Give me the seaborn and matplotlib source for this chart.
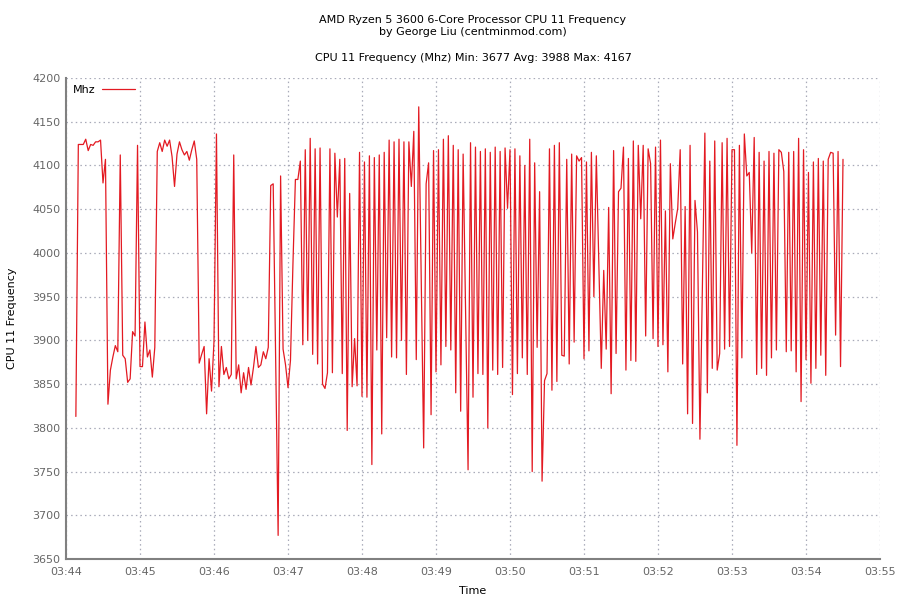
import matplotlib
matplotlib.use("Agg")
import matplotlib.pyplot as plt
import matplotlib.dates as mdates
import seaborn as sns
import numpy as np
import pandas as pd

# cpu 11 frequency samples (Mhz), one every ~2 s from 03:44:08 to 03:54:30
mhz_a = [3813, 4124, 4124, 4124, 4130, 4117, 4124, 4123, 4127, 4127, 4129, 4080, 4107,
         3827, 3866, 3881, 3894, 3887, 4112, 3883, 3879, 3852, 3856, 3910, 3905,
         4123, 3870, 3870, 3921, 3881, 3889, 3858, 3892, 4116, 4126, 4116, 4129,
         4122, 4129, 4110, 4076, 4113, 4127, 4118, 4112, 4116, 4106, 4118, 4128, 4107]
mhz_b = [3874, 3884, 3893, 3816, 3879, 3842, 3899, 4136, 3847, 3893, 3861, 3869,
         3856, 3861, 4112, 3856, 3872, 3840, 3863, 3844, 3869, 3849, 3869, 3893,
         3869, 3872, 3887, 3879, 3892, 4077, 4079, 3878, 3677, 4088, 3890, 3872,
         3846, 3877, 3987, 4084, 4084, 4105, 3895, 4118, 3900, 4131, 3884, 4119,
         3873, 4120, 3850, 3845, 3863, 4119, 3863, 4114, 4041, 4107, 3862, 4108,
         3797, 4068, 3847, 3902, 3848, 4115]
mhz_c = [3836, 4104, 3835, 4111, 3758, 4109, 3889, 4112, 3793, 4115, 3903, 4129,
         3881, 4127, 3880, 4130, 3900, 4127, 3861, 4127, 4076, 4139, 3878, 4167,
         3970, 3777, 4079, 4103, 3815, 4117, 3864, 4118, 3872, 4130]
mhz_d = [3893, 4134, 3889, 4123, 3840, 4118, 3819, 4113, 3930, 3752, 4126, 3835,
         4121, 3862, 4116, 3861, 4119, 3800, 4115, 3866, 4121, 3861, 4116, 3869,
         4120, 4051, 4118, 3838, 4119, 3862, 4111, 3880, 4100, 3861]
mhz_e = [4130, 3750, 4103, 3892, 4070, 3739, 3854, 3862, 4119, 3843, 4123, 3853,
         4126, 3883, 3882, 4107, 3873, 4113, 3898, 4111, 4105, 4109, 3879, 4104,
         3888, 4115, 3950, 4111, 3990, 3868, 3980, 3890, 4052, 3839, 4117]
mhz_f = [3885, 4070, 4074, 4121, 3866, 4108, 3877, 4128, 3876, 4123, 4039, 4123,
         3905, 4119, 4102, 3902, 4121, 3893, 4129, 3895, 4048, 3864, 4102, 4016,
         4034, 4051, 4118, 3873, 4053, 3816, 4123, 3805, 4060, 4024, 3787]
mhz_g = [3960, 4137, 3840, 4105, 3868, 4128, 3866, 3885, 4126, 3890, 4131, 3893,
         4118, 4118, 3780, 4123, 3880, 4136, 4088, 4092, 4000, 4132, 3861, 4115,
         3868, 4105, 3860, 4116, 3880, 4114, 3889, 4118, 4115, 4093]
mhz_h = [3887, 4115, 3888, 4116, 3864, 4131, 3830, 4118, 3878, 4092, 3851, 4104,
         3868, 4108, 3883, 4105, 3860, 4107, 4115, 4114, 3906, 4116, 3870, 4107]

mhz = mhz_a + mhz_b + mhz_c + mhz_d + mhz_e + mhz_f + mhz_g + mhz_h
first_sample = "2020-01-01 03:44:08"
last_sample = "2020-01-01 03:54:30"

title1 = "AMD Ryzen 5 3600 6-Core Processor CPU 11 Frequency"
title2 = "by George Liu (centminmod.com)"
title3 = "CPU 11 Frequency (Mhz) Min: 3677 Avg: 3988 Max: 4167"

df = pd.DataFrame({
    "Time": pd.date_range(first_sample, last_sample, periods=len(mhz)),
    "Mhz": mhz,
})

sns.set_style("white")
plt.rcParams['font.family'] = ['DejaVu Sans']
plt.rcParams['text.color'] = 'black'

fig = plt.figure(figsize=(9, 6), dpi=100)
ax = fig.add_axes([66/900, 1-559/600, (880-66)/900, (559-78)/600])

sns.lineplot(data=df, x="Time", y="Mhz", ax=ax, color="#e31a22",
             linewidth=0.9, estimator=None, label="Mhz")

ax.set_xlim(pd.Timestamp("2020-01-01 03:44:00"), pd.Timestamp("2020-01-01 03:55:00"))
ax.set_ylim(3650, 4200)
ax.set_yticks(np.arange(3650, 4201, 50))
ax.xaxis.set_major_locator(mdates.MinuteLocator())
ax.xaxis.set_minor_locator(mdates.SecondLocator(bysecond=[15, 30, 45]))
ax.xaxis.set_major_formatter(mdates.DateFormatter("%H:%M"))

grey = "#808080"
for side in ["top", "right"]:
    ax.spines[side].set_visible(False)
for side in ["left", "bottom"]:
    ax.spines[side].set_color(grey)
    ax.spines[side].set_linewidth(1.5)

ax.tick_params(axis="both", which="major", direction="in", length=5, width=1.2,
               color=grey, labelcolor="#666666", labelsize=8, pad=4)
ax.tick_params(axis="x", which="minor", direction="in", length=3, width=1.0, color=grey)
ax.tick_params(axis="x", which="major", pad=6)

ax.grid(True, which="major", color="#a8aab8", linestyle=(0, (1.2, 2.5)), linewidth=0.9)
ax.set_axisbelow(True)

ax.set_xlabel("Time", fontsize=8, color="black", labelpad=6)
ax.set_ylabel("CPU 11 Frequency", fontsize=8, color="black", labelpad=11)

ax.legend(loc="upper left", frameon=False, markerfirst=False, fontsize=8,
          handlelength=3.0, borderaxespad=0.2, handletextpad=0.6)

cx = (66 + 880) / 2 / 900
fig.text(cx, 1-20/600, title1, ha="center", va="center", fontsize=8, color="black")
fig.text(cx, 1-32/600, title2, ha="center", va="center", fontsize=8, color="black")
fig.text(cx, 1-58/600, title3, ha="center", va="center", fontsize=8, color="black")

fig.savefig("out.png", dpi=100, facecolor="white")
